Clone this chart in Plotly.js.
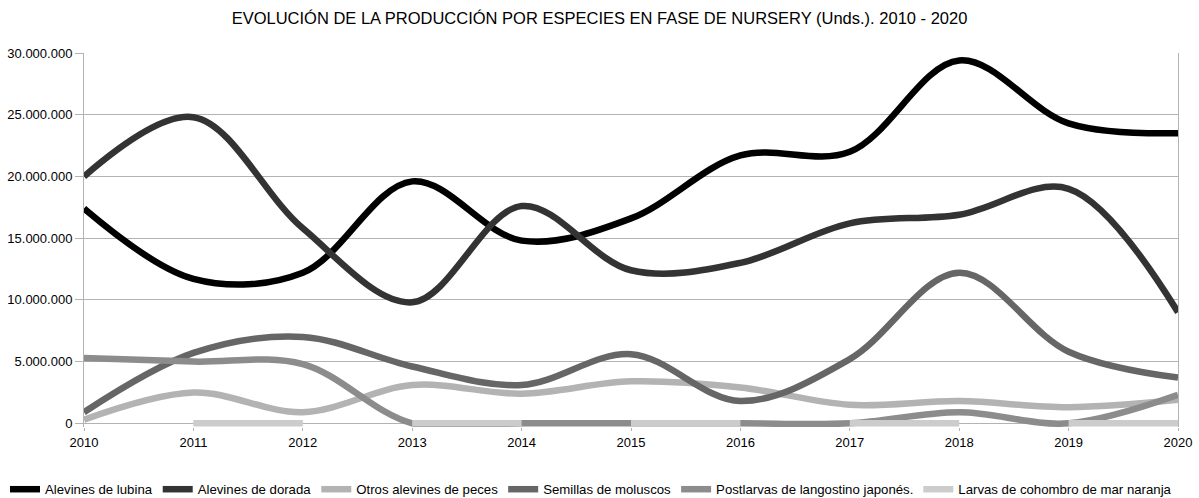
<!DOCTYPE html>
<html>
<head>
<meta charset="utf-8">
<script src="https://cdn.plot.ly/plotly-3.0.1.min.js"></script>
<style>html,body{margin:0;padding:0;background:#fff;}#chart{width:1199px;height:498px;}</style>
</head>
<body>
<div id="chart"></div>
<script>
// Years (x categories)
const years = [2010, 2011, 2012, 2013, 2014, 2015, 2016, 2017, 2018, 2019, 2020];

// Series values (units)
const alevinesLubina   = [17400000, 11700000, 12200000, 19600000, 14800000, 16600000, 21700000, 22000000, 29400000, 24300000, 23500000];
const alevinesDorada   = [20000000, 24800000, 15800000, 9800000, 17600000, 12400000, 13000000, 16200000, 16900000, 19000000, 9000000];
const otrosAlevines    = [300000, 2500000, 900000, 3100000, 2400000, 3400000, 2900000, 1500000, 1800000, 1300000, 1900000];
const semillasMoluscos = [900000, 5700000, 7000000, 4600000, 3100000, 5600000, 1800000, 5200000, 12200000, 5800000, 3700000];
const postlarvas       = [5300000, 5000000, 4800000, 0, 0, 0, 0, 0, 900000, 0, 2300000];
const larvasCohombro   = [null, 0, 0, 0, 0, 0, 0, 0, 0, 0, 0];
// which year-to-year intervals of the cohombro line are drawn in the original
const cohombroTramos   = [false, true, false, true, false, true, false, true, false, true];

const seriesNames = [
  "Alevines de lubina",
  "Alevines de dorada",
  "Otros alevines de peces",
  "Semillas de moluscos",
  "Postlarvas de langostino japonés.",
  "Larvas de cohombro de mar naranja"
];
const seriesColors = ["#000000", "#333333", "#b3b3b3", "#666666", "#8c8c8c", "#cccccc"];

const yTicks = [0, 5000000, 10000000, 15000000, 20000000, 25000000, 30000000];

// build cohombro segments (break line between non-drawn intervals)
const cohX = [], cohY = [];
for (let i = 0; i < cohombroTramos.length; i++) {
  if (cohombroTramos[i]) {
    cohX.push(years[i], years[i + 1], null);
    cohY.push(larvasCohombro[i], larvasCohombro[i + 1], null);
  }
}

const allSeries = [alevinesLubina, alevinesDorada, otrosAlevines, semillasMoluscos, postlarvas];
const traces = allSeries.map((vals, i) => ({
  type: "scatter", mode: "lines", name: seriesNames[i],
  x: years, y: vals,
  line: {color: seriesColors[i], width: 6.5, shape: "spline", smoothing: 1},
  hoverinfo: "skip"
}));
traces.push({
  type: "scatter", mode: "lines", name: seriesNames[5],
  x: cohX, y: cohY, connectgaps: false,
  line: {color: seriesColors[5], width: 6.5, shape: "spline", smoothing: 1},
  hoverinfo: "skip"
});

const font = {family: "Liberation Sans, Arial, sans-serif", color: "#000000"};

const layout = {
  width: 1199, height: 498,
  paper_bgcolor: "#ffffff", plot_bgcolor: "#ffffff",
  separators: ",.",
  margin: {l: 84, r: 21, t: 53, b: 71, pad: 0, autoexpand: false},
  title: {
    text: "EVOLUCIÓN DE LA PRODUCCIÓN POR ESPECIES EN FASE DE NURSERY (Unds.). 2010 - 2020",
    font: Object.assign({}, font, {size: 16.5}),
    x: 0.5, xanchor: "center", y: 0.963, yanchor: "middle"
  },
  xaxis: {
    type: "linear", range: [2010, 2020],
    tickmode: "array", tickvals: years, ticktext: years.map(String),
    showgrid: false, zeroline: false,
    showline: false,
    ticks: "outside", ticklen: 3, tickcolor: "#b3b3b3", tickwidth: 1,
    tickfont: Object.assign({}, font, {size: 13}),
    fixedrange: true
  },
  yaxis: {
    range: [-300000, 30000000],
    tickmode: "array", tickvals: yTicks,
    tickformat: ",d",
    showgrid: true, gridcolor: "#b3b3b3", gridwidth: 1,
    zeroline: true, zerolinecolor: "#b3b3b3", zerolinewidth: 1,
    showline: true, linecolor: "#b3b3b3", linewidth: 1, mirror: true,
    ticks: "outside", ticklen: 8, tickcolor: "#b3b3b3", tickwidth: 1,
    tickfont: Object.assign({}, font, {size: 13}),
    fixedrange: true
  },
  showlegend: true,
  legend: {
    orientation: "h", xref: "paper", x: -0.0722, xanchor: "left",
    y: -0.126, yanchor: "top",
    font: Object.assign({}, font, {size: 13.2}),
    bgcolor: "rgba(0,0,0,0)", itemclick: false, itemdoubleclick: false
  },
  hovermode: false
};

Plotly.newPlot("chart", traces, layout, {displayModeBar: false, staticPlot: true});
</script>
</body>
</html>
